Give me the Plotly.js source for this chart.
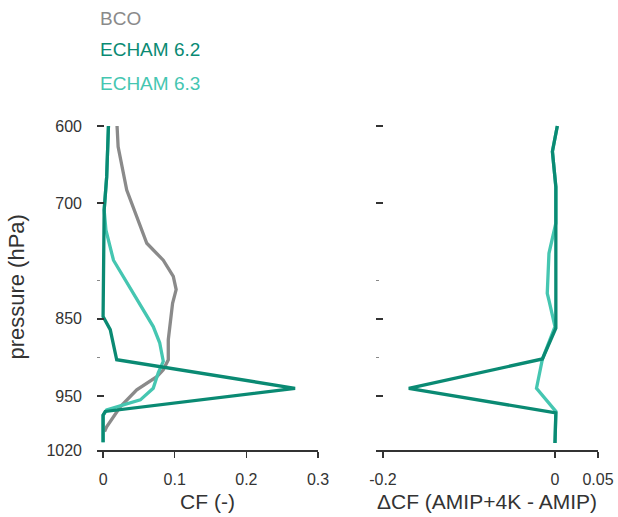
<!DOCTYPE html>
<html>
<head>
<meta charset="utf-8">
<script src="https://cdn.plot.ly/plotly-3.0.1.min.js"></script>
<style>html,body{margin:0;padding:0;background:#fff;}#chart{width:618px;height:517px;}</style>
</head>
<body>
<div id="chart"></div>
<script>
// ---- data ----
const seriesNames = ["BCO", "ECHAM 6.2", "ECHAM 6.3"];

// Left panel: cloud fraction CF (-)
const bcoP  = [600, 627, 683, 705, 752, 774, 795, 812, 830, 877, 903, 916, 925, 942, 964, 990, 996];
const bcoCF = [0.0195, 0.021, 0.033, 0.042, 0.061, 0.084, 0.098, 0.102, 0.097, 0.091, 0.091, 0.084, 0.075, 0.047, 0.024, 0.005, 0.002];

const e62P  = [600, 666, 709, 847, 864, 903, 940, 970, 975, 1010];
const e62CF = [0.0075, 0.005, 0.0015, 0, 0.01, 0.019, 0.268, 0.003, 0, 0];

const e63P  = [600, 666, 709, 735, 774, 838, 860, 881, 905, 920, 940, 955, 968, 975, 1010];
const e63CF = [0.0075, 0.005, 0.0015, 0.004, 0.0145, 0.056, 0.070, 0.079, 0.084, 0.077, 0.070, 0.052, 0.005, 0, 0];

// Right panel: change in CF (AMIP+4K - AMIP)
const d62P  = [600, 633, 679, 862, 902, 940, 972, 1011];
const d62CF = [0.0027, -0.003, 0.001, 0.001, -0.0146, -0.170, 0.001, 0];

const d63P  = [600, 633, 679, 726, 765, 817, 826, 860, 902, 940, 970, 1011];
const d63CF = [0.0027, -0.003, 0.001, 0.001, -0.007, -0.009, -0.007, 0.0, -0.0146, -0.0215, 0.001, 0];

// axis ticks
const pTicks = [600, 700, 850, 950, 1020];
const pTickText = ["600", "700", "850", "950", "1020"];
const pMinor = [800, 900];
const cfTicks = [0, 0.1, 0.2, 0.3];
const cfTickText = ["0", "0.1", "0.2", "0.3"];
const dcfTicks = [-0.2, 0, 0.05];
const dcfTickText = ["-0.2", "0", "0.05"];

// ---- styles ----
const colBCO = "#8a8a8a", col62 = "#0a8a73", col63 = "#45c6b1";
const FONT = "Liberation Sans, Arial, Helvetica, sans-serif";
const axisCol = "#333333";

function line(x, y, c, xa, ya, name) {
  return {x: x, y: y, type: "scatter", mode: "lines", name: name,
          xaxis: xa, yaxis: ya, line: {color: c, width: 3.3}, showlegend: false, hoverinfo: "skip"};
}

const data = [
  line(bcoCF, bcoP, colBCO, "x", "y", seriesNames[0]),
  line(e63CF, e63P, col63, "x", "y", seriesNames[2]),
  line(e62CF, e62P, col62, "x", "y", seriesNames[1]),
  line(d63CF, d63P, col63, "x2", "y2", seriesNames[2]),
  line(d62CF, d62P, col62, "x2", "y2", seriesNames[1])
];

const W = 618, H = 517;
// 600 hPa at y=126px, 1020 hPa at y=450px; range padded by 3 hPa at top so the 600 tick is drawn
const pxPerHPa = (450 - 126) / 420;
const padTop = 3;
const yDom = [1 - 450 / H, 1 - (126 - padTop * pxPerHPa) / H];

function yAxis(showLabels, anchor) {
  return {
    domain: yDom, anchor: anchor, range: [1020, 600 - padTop],
    tickmode: "array", tickvals: pTicks, ticktext: pTickText,
    showticklabels: showLabels, ticks: "inside", ticklen: 7, tickwidth: 2.5, tickcolor: axisCol,
    ticklabelstandoff: 14,
    minor: {tickmode: "array", tickvals: pMinor, ticks: "inside", ticklen: 3, tickwidth: 1, tickcolor: "#888"},
    showline: false, showgrid: false, zeroline: false,
    tickfont: {family: FONT, size: 16, color: axisCol}
  };
}
function xAxis(dom, range, tv, tt, title, anchor) {
  return {
    domain: dom, anchor: anchor, range: range,
    tickmode: "array", tickvals: tv, ticktext: tt,
    ticks: "outside", ticklen: 6, tickwidth: 1.5, tickcolor: axisCol,
    showline: true, linewidth: 1.5, linecolor: axisCol,
    showgrid: false, zeroline: false, ticklabelstandoff: 8,
    tickfont: {family: FONT, size: 16, color: axisCol},
    title: {text: title, font: {family: FONT, size: 21, color: axisCol}, standoff: 7}
  };
}

const yl = yAxis(true, "x");
yl.title = {text: "pressure (hPa)", font: {family: FONT, size: 22, color: axisCol}, standoff: 15};

const layout = {
  width: W, height: H,
  margin: {l: 0, r: 0, t: 0, b: 0},
  paper_bgcolor: "#ffffff", plot_bgcolor: "#ffffff",
  showlegend: false,
  xaxis: xAxis([97 / W, 318 / W], [-0.0085, 0.3], cfTicks, cfTickText, "CF (-)", "y"),
  xaxis2: xAxis([376 / W, 598 / W], [-0.2081, 0.05], dcfTicks, dcfTickText, "ΔCF (AMIP+4K - AMIP)", "y2"),
  yaxis: yl,
  yaxis2: yAxis(false, "x2"),
  annotations: [
    {text: seriesNames[0], color: colBCO, y: 1 - 18 / H},
    {text: seriesNames[1], color: col62, y: 1 - 50 / H},
    {text: seriesNames[2], color: col63, y: 1 - 83 / H}
  ].map(a => ({
    text: a.text, xref: "paper", yref: "paper", x: 98 / W, y: a.y,
    xanchor: "left", yanchor: "middle", showarrow: false,
    font: {family: FONT, size: 19, color: a.color}
  }))
};

Plotly.newPlot("chart", data, layout, {staticPlot: true, displayModeBar: false});
</script>
</body>
</html>
